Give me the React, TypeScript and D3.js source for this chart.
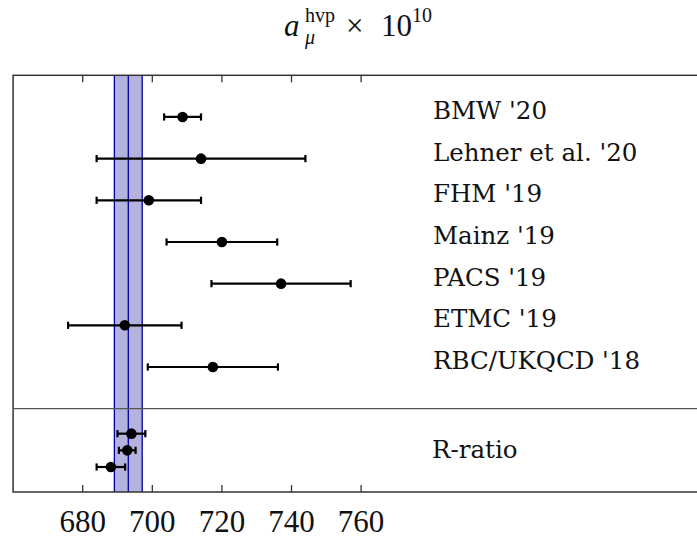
import React, { Component } from 'react';
import * as d3 from 'd3';

// lattice results, top to bottom
const latticeLabels = ["BMW '20", "Lehner et al. '20", "FHM '19", "Mainz '19", "PACS '19", "ETMC '19", "RBC/UKQCD '18"];
const latticeValues = [708.7, 714.0, 699.0, 720.0, 737.0, 692.1, 717.4];
const latticeErrors = [5.3, 30.0, 15.0, 15.9, 20.0, 16.3, 18.7];

// data-driven (R-ratio) results
const rratioValues = [694.0, 692.8, 688.1];
const rratioErrors = [4.0, 2.4, 4.1];
const rratioRows = [8.6, 9.0, 9.4];

const bandCenter = 693.1;
const bandError = 4.0;

const xTicks = [680, 700, 720, 740, 760];

const W = 697;
const H = 539;

class App extends Component {
  ref = React.createRef<SVGSVGElement>();

  componentDidMount() {
    this.draw();
  }

  draw = () => {
    const svg = d3.select(this.ref.current);
    svg.selectAll('*').remove();

    const x = d3.scaleLinear().domain([660, 860]).range([13.1, 709.1]);
    const y = d3.scaleLinear().domain([0, 10]).range([75.3, 492]);

    const serif = '"Liberation Serif", "Times New Roman", Times, "DejaVu Serif", serif';
    const labelFont = '"DejaVu Serif", serif';

    // title
    const title = svg.append('g').attr('fill', '#111').style('font-family', serif);
    title.append('text').attr('x', 284).attr('y', 36).attr('font-size', 31).attr('font-style', 'italic').text('a');
    title.append('text').attr('x', 305).attr('y', 22).attr('font-size', 20).text('hvp');
    title.append('text').attr('x', 305).attr('y', 44).attr('font-size', 20).attr('font-style', 'italic').text('μ');
    title.append('text').attr('x', 346).attr('y', 36).attr('font-size', 31).text('×');
    title.append('text').attr('x', 381).attr('y', 36).attr('font-size', 31).text('10');
    title.append('text').attr('x', 412).attr('y', 22).attr('font-size', 20).text('10');

    // averaged band
    svg.append('rect')
      .attr('x', x(bandCenter - bandError))
      .attr('y', y(0))
      .attr('width', x(bandCenter + bandError) - x(bandCenter - bandError))
      .attr('height', y(10) - y(0))
      .attr('fill', '#b3b3de');
    [bandCenter - bandError, bandCenter, bandCenter + bandError].forEach((v) => {
      svg.append('line')
        .attr('x1', x(v)).attr('x2', x(v))
        .attr('y1', y(0)).attr('y2', y(10))
        .attr('stroke', '#0000a0').attr('stroke-width', 1.3);
    });

    // frame
    svg.append('rect')
      .attr('x', x(660)).attr('y', y(0))
      .attr('width', x(860) - x(660)).attr('height', y(10) - y(0))
      .attr('fill', 'none').attr('stroke', '#333').attr('stroke-width', 1.5);
    svg.append('line')
      .attr('x1', x(660)).attr('x2', x(860))
      .attr('y1', y(8)).attr('y2', y(8))
      .attr('stroke', '#555').attr('stroke-width', 1.3);

    // ticks, top and bottom
    xTicks.forEach((t) => {
      svg.append('line').attr('x1', x(t)).attr('x2', x(t)).attr('y1', y(0)).attr('y2', y(0) + 7)
        .attr('stroke', '#333').attr('stroke-width', 1.3);
      svg.append('line').attr('x1', x(t)).attr('x2', x(t)).attr('y1', y(10)).attr('y2', y(10) - 7)
        .attr('stroke', '#333').attr('stroke-width', 1.3);
      svg.append('text').attr('x', x(t)).attr('y', 532)
        .attr('text-anchor', 'middle').style('font-family', serif).attr('font-size', 31)
        .attr('fill', '#111').text(t);
    });

    const points = [
      ...latticeValues.map((v, i) => ({ v, e: latticeErrors[i], row: i + 1 })),
      ...rratioValues.map((v, i) => ({ v, e: rratioErrors[i], row: rratioRows[i] })),
    ];

    const g = svg.append('g');
    points.forEach((p) => {
      const cy = y(p.row);
      g.append('line').attr('x1', x(p.v - p.e)).attr('x2', x(p.v + p.e)).attr('y1', cy).attr('y2', cy)
        .attr('stroke', '#000').attr('stroke-width', 2.2);
      [p.v - p.e, p.v + p.e].forEach((c) => {
        g.append('line').attr('x1', x(c)).attr('x2', x(c)).attr('y1', cy - 3.6).attr('y2', cy + 3.6)
          .attr('stroke', '#000').attr('stroke-width', 2.2);
      });
      g.append('circle').attr('cx', x(p.v)).attr('cy', cy).attr('r', 5.3).attr('fill', '#000');
    });

    // labels
    latticeLabels.forEach((l, i) => {
      svg.append('text').attr('x', 433).attr('y', y(i + 1) + 2)
        .style('font-family', labelFont).attr('font-size', 24.5).attr('fill', '#111').text(l);
    });
    svg.append('text').attr('x', 432).attr('y', y(9) + 8)
      .style('font-family', labelFont).attr('font-size', 24.5).attr('fill', '#111').text('R-ratio');
  }

  render() {
    return (
      <svg ref={this.ref} width={W} height={H}
        style={{ position: 'absolute', left: 0, top: 0, background: '#fff' }} />
    );
  }
}

export default App;
